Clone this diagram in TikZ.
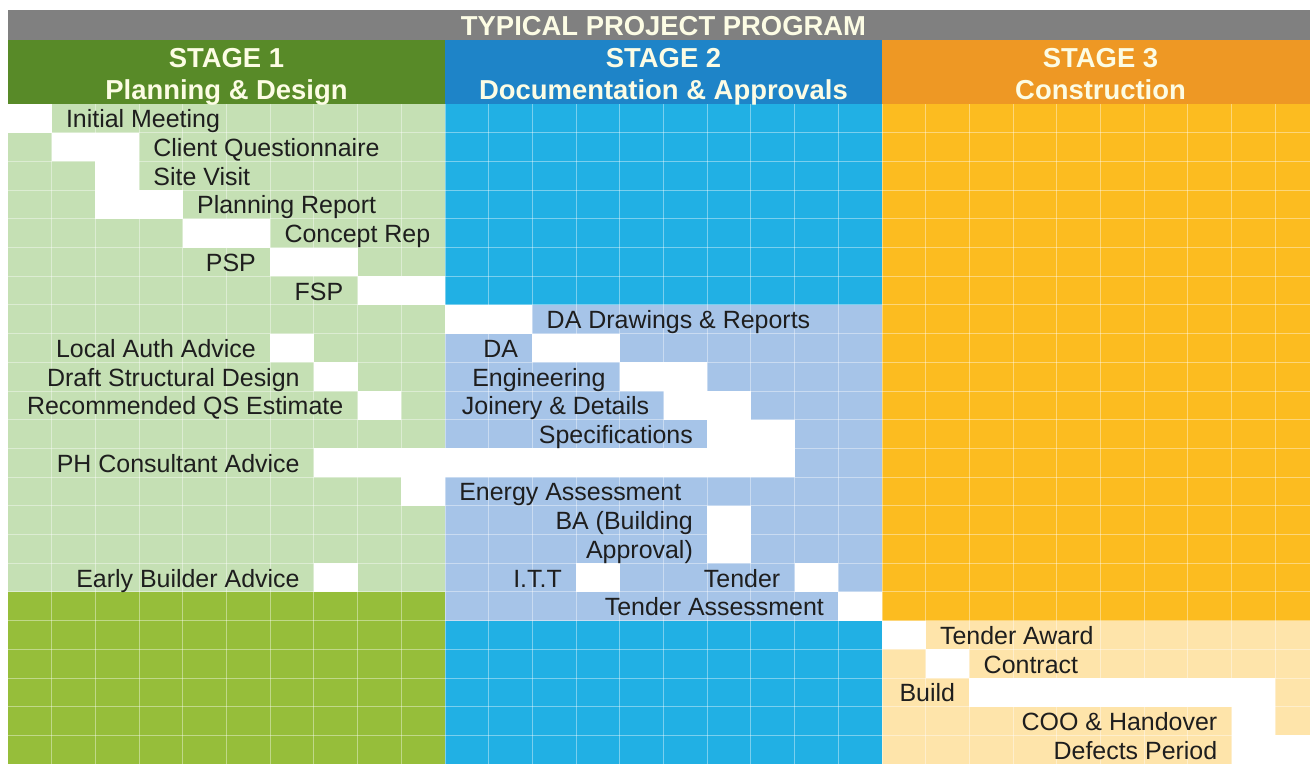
\documentclass[tikz,border=0pt]{standalone}
\usepackage{fontspec}
\setmainfont{Liberation Sans}
\usepackage{tikz}

\definecolor{StageGray}{RGB}{128,128,128}
\definecolor{PlanHead}{RGB}{88,138,40}
\definecolor{PlanLight}{RGB}{197,224,180}
\definecolor{PlanDark}{RGB}{150,190,58}
\definecolor{DocHead}{RGB}{30,132,200}
\definecolor{DocDark}{RGB}{33,176,228}
\definecolor{DocLight}{RGB}{166,196,232}
\definecolor{BuildHead}{RGB}{238,152,36}
\definecolor{BuildDark}{RGB}{252,188,32}
\definecolor{BuildLight}{RGB}{254,228,170}
\definecolor{HeadText}{RGB}{252,252,228}
\definecolor{TaskText}{RGB}{30,30,30}

\begin{document}
\begin{tikzpicture}[x=0.874cm, y=-0.574cm,
        task/.style={text=TaskText, inner sep=0pt, font=\fontsize{14.2}{17}\selectfont},
        stagehead/.style={text=HeadText, inner sep=0pt, font=\bfseries\fontsize{15.6}{18}\selectfont},
        gridline/.style={white, opacity=0.4, line width=0.5pt}]
        % Define chart size
        \def \cols {30}  % Number of columns (10 per stage)
        \def \rows {23}  % Number of task rows
        \def \gap {0.32}  % Space between a bar and its label

        \useasboundingbox (-0.183,-3.624) rectangle (29.794,23.03);
        \clip (-0.183,-3.624) rectangle (29.794,23.03);

        % Draw title bar and stage headers
        \fill[StageGray] (0,-3.275) rectangle (\cols,-2.23);
        \fill[PlanHead] (0,-2.23) rectangle (10,0);
        \fill[DocHead] (10,-2.23) rectangle (20,0);
        \fill[BuildHead] (20,-2.23) rectangle (\cols,0);

        % Draw stage backgrounds
        \fill[PlanLight] (0,0) rectangle (10,17);
        \fill[PlanDark] (0,17) rectangle (10,\rows);
        \fill[DocDark] (10,0) rectangle (20,7);
        \fill[DocLight] (10,7) rectangle (20,18);
        \fill[DocDark] (10,18) rectangle (20,\rows);
        \fill[BuildDark] (20,0) rectangle (\cols,18);
        \fill[BuildLight] (20,18) rectangle (\cols,\rows);

        % Draw cell grid
        \foreach \x in {1,...,29} {
            \draw[gridline] (\x,0) -- (\x,\rows);
        }
        \foreach \y in {1,...,22} {
            \draw[gridline] (0,\y) -- (\cols,\y);
        }

        % Draw task bars (white cells): first column / last column / row
        \foreach \a/\b/\r in {0/1/0, 1/3/1, 2/3/2, 2/4/3, 4/6/4, 6/8/5, 8/10/6,
            10/12/7, 6/7/8, 12/14/8, 7/8/9, 14/16/9, 8/9/10, 15/17/10,
            16/18/11, 7/18/12, 9/10/13, 16/17/14, 16/17/15,
            7/8/16, 13/14/16, 18/19/16, 19/20/17,
            20/21/18, 21/22/19, 22/29/20, 28/29/21, 28/30/22} {
            \fill[white] (\a,\r) rectangle (\b,{\r+1});
        }

        % Title and stage names
        \node[stagehead, anchor=base] (title) at (15,-2.40) {TYPICAL PROJECT PROGRAM};
        \node[stagehead, anchor=base] (stage1) at (5,-1.289) {STAGE 1};
        \node[stagehead, anchor=base] (plan) at ([yshift=-0.65cm]stage1.base) {Planning \& Design};
        \node[stagehead, anchor=base] (stage2) at (15,-1.289) {STAGE 2};
        \node[stagehead, anchor=base] (docs) at ([yshift=-0.65cm]stage2.base) {Documentation \& Approvals};
        \node[stagehead, anchor=base] (stage3) at (25,-1.289) {STAGE 3};
        \node[stagehead, anchor=base] (constr) at ([yshift=-0.65cm]stage3.base) {Construction};

        % Stage 1 tasks
        \node[task, anchor=base west] (initmeet) at ({1+\gap}, 0.83) {Initial Meeting};
        \node[task, anchor=base west] (clientq) at ({3+\gap}, 1.83) {Client Questionnaire};
        \node[task, anchor=base west] (sitevisit) at ({3+\gap}, 2.83) {Site Visit};
        \node[task, anchor=base west] (planrep) at ({4+\gap}, 3.83) {Planning Report};
        \node[task, anchor=base west] (concept) at ({6+\gap}, 4.83) {Concept Rep};
        \node[task, anchor=base east] (psp) at ({6-\gap}, 5.83) {PSP};
        \node[task, anchor=base east] (fsp) at ({8-\gap}, 6.83) {FSP};
        \node[task, anchor=base east] (localauth) at ({6-\gap}, 8.83) {Local Auth Advice};
        \node[task, anchor=base east] (structural) at ({7-\gap}, 9.83) {Draft Structural Design};
        \node[task, anchor=base east] (qsest) at ({8-\gap}, 10.83) {Recommended QS Estimate};
        \node[task, anchor=base east] (phcons) at ({7-\gap}, 12.83) {PH Consultant Advice};
        \node[task, anchor=base east] (earlybuild) at ({7-\gap}, 16.83) {Early Builder Advice};

        % Stage 2 tasks
        \node[task, anchor=base west] (dadraw) at ({12+\gap}, 7.83) {DA Drawings \& Reports};
        \node[task, anchor=base east] (da) at ({12-\gap}, 8.83) {DA};
        \node[task, anchor=base east] (engin) at ({14-\gap}, 9.83) {Engineering};
        \node[task, anchor=base east] (joinery) at ({15-\gap}, 10.83) {Joinery \& Details};
        \node[task, anchor=base east] (specs) at ({16-\gap}, 11.83) {Specifications};
        \node[task, anchor=base west] (energy) at ({10+\gap}, 13.83) {Energy Assessment};
        \node[task, anchor=base east] (ba) at ({16-\gap}, 14.83) {BA (Building};
        \node[task, anchor=base east] (baprov) at ({16-\gap}, 15.83) {Approval)};
        \node[task, anchor=base east] (itt) at ({13-\gap}, 16.83) {I.T.T};
        \node[task, anchor=base east] (tender) at ({18-\gap}, 16.83) {Tender};
        \node[task, anchor=base east] (tenderass) at ({19-\gap}, 17.83) {Tender Assessment};

        % Stage 3 tasks
        \node[task, anchor=base west] (award) at ({21+\gap}, 18.83) {Tender Award};
        \node[task, anchor=base west] (contract) at ({22+\gap}, 19.83) {Contract};
        \node[task, anchor=base east] (build) at ({22-\gap}, 20.83) {Build};
        \node[task, anchor=base east] (handover) at ({28-\gap}, 21.83) {COO \& Handover};
        \node[task, anchor=base east] (defects) at ({28-\gap}, 22.83) {Defects Period};
    \end{tikzpicture}
\end{document}
